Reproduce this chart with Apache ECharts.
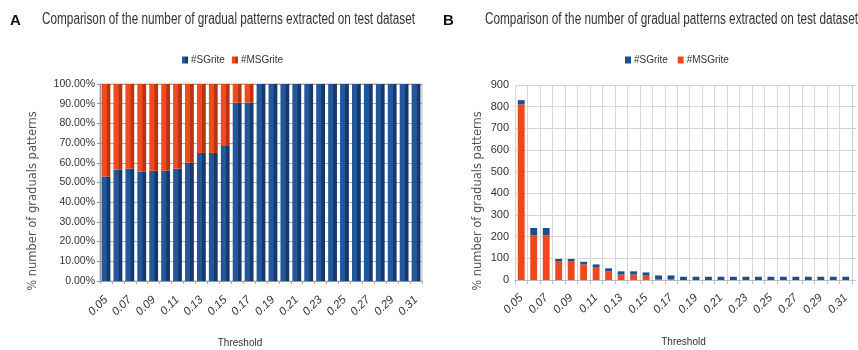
<!DOCTYPE html>
<html><head><meta charset="utf-8">
<script src="https://cdn.jsdelivr.net/npm/echarts@6/dist/echarts.min.js"></script>
<style>html,body{margin:0;padding:0;background:#fff}#c{width:858px;height:350px}</style>
</head><body><div id="c"></div>
<script>
var thresholds = ['0.05','0.06','0.07','0.08','0.09','0.10','0.11','0.12','0.13','0.14','0.15','0.16','0.17','0.18','0.19','0.20','0.21','0.22','0.23','0.24','0.25','0.26','0.27','0.28','0.29','0.30','0.31'];
// Chart A: percentage share
var pctSGrite = [53,56.5,57,55.5,56,56,57,60,65,65,68.5,90.5,90.5,100,100,100,100,100,100,100,100,100,100,100,100,100,100];
var pctMSGrite = [47,43.5,43,44.5,44,44,43,40,35,35,31.5,9.5,9.5,0,0,0,0,0,0,0,0,0,0,0,0,0,0];
// Chart B: counts
var cntMSGrite = [810,205,205,85,85,72,60,40,25,25,20,4,4,0,0,0,0,0,0,0,0,0,0,0,0,0,0];
var cntSGrite = [20,35,35,12,12,12,12,14,15,15,15,17,17,15,15,15,15,15,15,15,15,15,15,15,15,15,15];
var titleText = 'Comparison of the number of gradual patterns extracted on test dataset';
var yName = '% number of graduals patterns';

var FONT = "'Liberation Sans',Arial,sans-serif";
var BLUE = '#1f4e8f', ORANGE = '#f0471d';
function grad(c1, c2){ return new echarts.graphic.LinearGradient(0,0,1,0,[{offset:0,color:c1},{offset:0.55,color:c1},{offset:0.62,color:c2},{offset:1,color:c2}]); }

// condensed-look title via horizontal scaling
var ctx = document.createElement('canvas').getContext('2d');
ctx.font = "16px 'Liberation Sans'";
var titleScale = 373 / ctx.measureText(titleText).width;

var chart = echarts.init(document.getElementById('c'), null, {renderer:'canvas'});
function axisLabelX(m){ return {rotate:45, interval:1, fontFamily:FONT, fontSize:11.5, fontStyle:'italic', color:'#333', margin:m}; }
function titleEl(x, t){ return {type:'text', x:x, y:12, scaleX:titleScale, style:{text:t, font:"16px 'Liberation Sans'", fill:'#333'}}; }
function yNameEl(x){ return {type:'text', x:x, y:201, rotation:Math.PI/2, style:{text:yName, font:"11.5px 'DejaVu Sans'", fill:'#555', align:'center', verticalAlign:'middle'}}; }
chart.setOption({
  animation:false,
  graphic:[
    {type:'text', x:10, y:13, style:{text:'A', font:"bold 15px 'Liberation Sans'", fill:'#111'}},
    titleEl(42, titleText),
    {type:'text', x:443, y:13, style:{text:'B', font:"bold 15px 'Liberation Sans'", fill:'#111'}},
    titleEl(485, titleText),
    yNameEl(33),
    yNameEl(478)
  ],
  legend:[
    {data:['#SGrite','#MSGrite'], left:182, top:55, itemWidth:6, itemHeight:7, itemGap:7, icon:'rect', textStyle:{fontFamily:FONT, fontSize:10, color:'#333', padding:[0,0,0,-2]}, padding:0},
    {data:['#SGrite ','#MSGrite '], left:625, top:55, itemWidth:6, itemHeight:7, itemGap:7, icon:'rect', textStyle:{fontFamily:FONT, fontSize:10, color:'#333', padding:[0,0,0,-2]}, padding:0}
  ],
  grid:[
    {left:100, right:436, top:84, bottom:69, show:true, borderColor:'#bbb', borderWidth:1, outerBoundsMode:'none', containLabel:false},
    {left:515, right:6, top:85, bottom:70, outerBoundsMode:'none', containLabel:false}
  ],
  xAxis:[
    {gridIndex:0, type:'category', data:thresholds, name:'Threshold', nameLocation:'middle', nameGap:57, nameTextStyle:{fontFamily:FONT, fontSize:10, color:'#333', padding:[0,42,0,0]},
     axisLine:{lineStyle:{color:'#999'}}, axisTick:{show:true, interval:0, lineStyle:{color:'#aaa'}, length:3}, axisLabel:axisLabelX(17)},
    {gridIndex:1, type:'category', data:thresholds, name:'Threshold', nameLocation:'middle', nameGap:57, nameTextStyle:{fontFamily:FONT, fontSize:10, color:'#333'},
     axisLine:{lineStyle:{color:'#bbb'}}, axisTick:{show:true, interval:0, lineStyle:{color:'#bbb'}, length:4},
     splitLine:{show:true, interval:0, lineStyle:{color:'#d6d6d6'}}, axisLabel:axisLabelX(16)}
  ],
  yAxis:[
    {gridIndex:0, type:'value', min:0, max:100, interval:10,
     axisLine:{show:true, lineStyle:{color:'#999'}}, axisTick:{show:true, length:3, lineStyle:{color:'#999'}},
     axisLabel:{fontFamily:FONT, fontSize:10.5, color:'#333', margin:5, formatter:function(v){return v.toFixed(2)+'%';}},
     splitLine:{show:true, lineStyle:{color:'#aaa'}}},
    {gridIndex:1, type:'value', min:0, max:900, interval:100,
     axisLine:{show:false}, axisTick:{show:false},
     axisLabel:{fontFamily:FONT, fontSize:11, color:'#333', margin:6},
     splitLine:{show:true, lineStyle:{color:'#d6d6d6', width:1.2}}},
    {gridIndex:1, type:'value', position:'right', min:0, max:900, interval:100, axisLine:{show:true, lineStyle:{color:'#ccc'}},
     axisTick:{show:true, length:4, lineStyle:{color:'#ccc'}}, axisLabel:{show:false}, splitLine:{show:false}}
  ],
  series:[
    {name:'#SGrite', type:'bar', xAxisIndex:0, yAxisIndex:0, stack:'a', data:pctSGrite, barWidth:'74%', itemStyle:{color:grad('#24569a','#15396b')}},
    {name:'#MSGrite', type:'bar', xAxisIndex:0, yAxisIndex:0, stack:'a', data:pctMSGrite, barWidth:'74%', itemStyle:{color:grad('#f24a1f','#b93212')}},
    {name:'#MSGrite ', type:'bar', xAxisIndex:1, yAxisIndex:1, stack:'b', data:cntMSGrite, barWidth:'55%', itemStyle:{color:ORANGE}},
    {name:'#SGrite ', type:'bar', xAxisIndex:1, yAxisIndex:1, stack:'b', data:cntSGrite, barWidth:'55%', itemStyle:{color:BLUE}}
  ],
  color:[BLUE, ORANGE, ORANGE, BLUE]
});
</script></body></html>
